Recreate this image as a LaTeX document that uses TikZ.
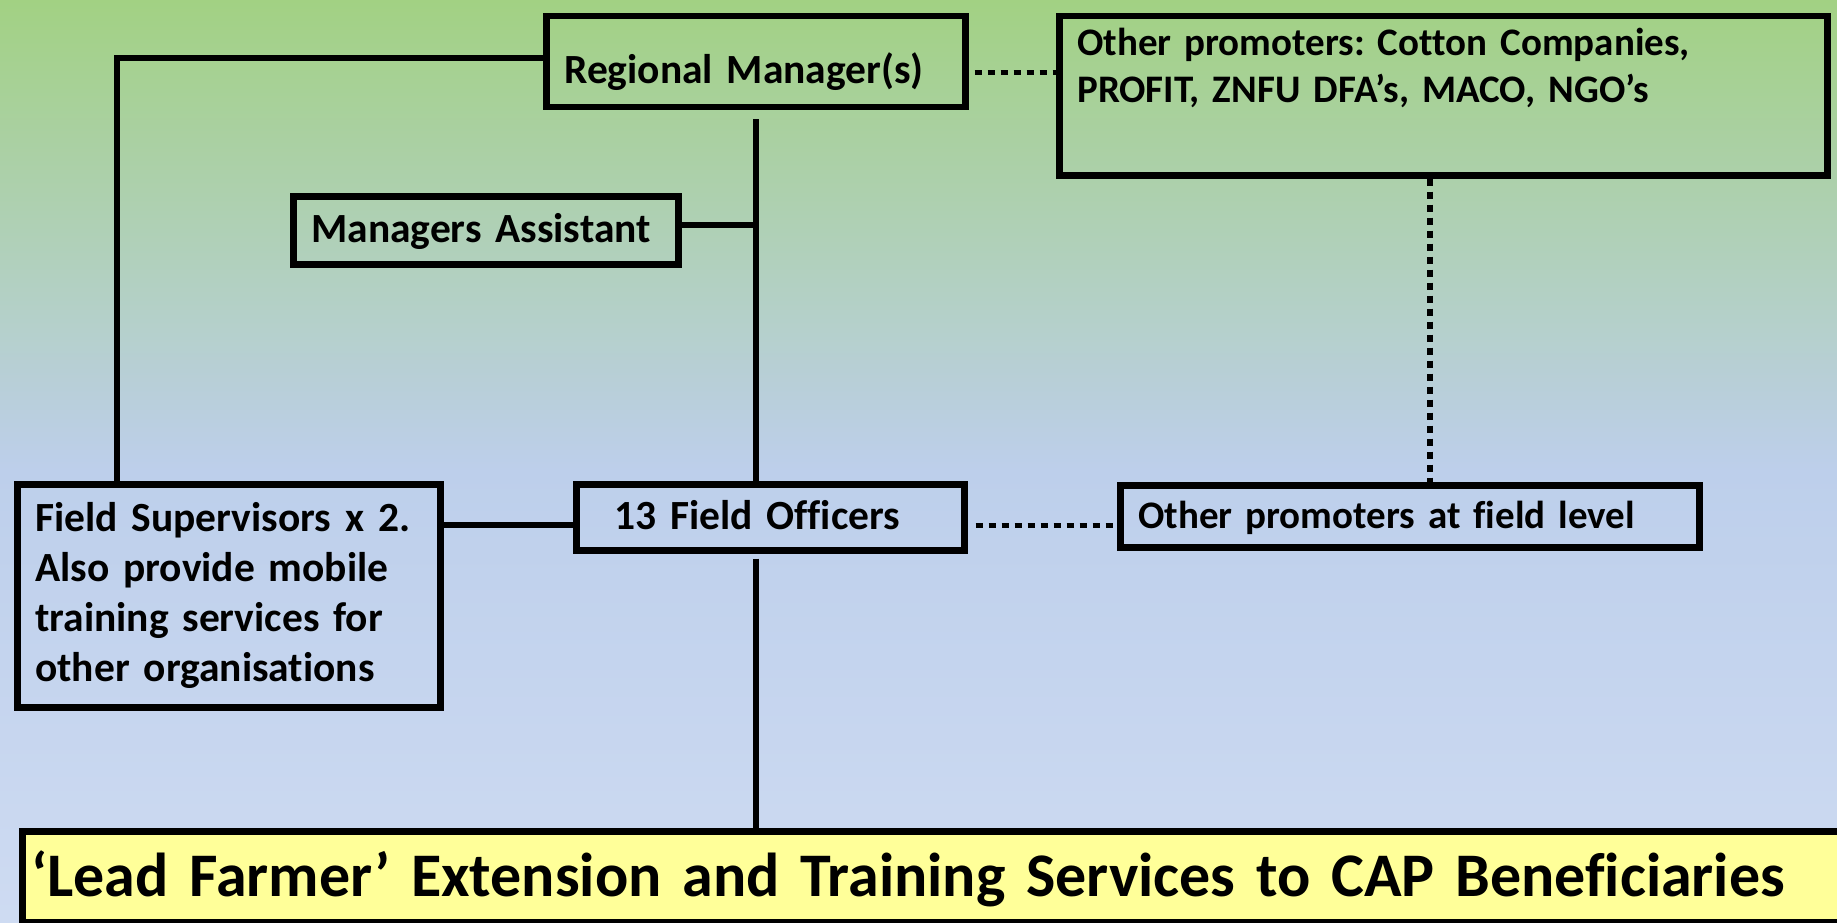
\documentclass[tikz,border=0pt]{standalone}
\usepackage{fontspec}
\setmainfont{Carlito}[Ligatures=NoCommon]
\usetikzlibrary{positioning}
\frenchspacing

\definecolor{bgtop}{HTML}{A2D183}
\definecolor{bgmid}{HTML}{BDCFEB}
\definecolor{bglow}{HTML}{CEDBF2}
\definecolor{bannerfill}{HTML}{FFFF99}

\tikzset{
  box/.style={draw, line width=6.5pt, anchor=north west, inner xsep=18pt, inner ysep=0pt,
    align=left, font=\fontsize{41.5}{50}\selectfont\bfseries},
  smalltext/.style={font=\fontsize{39}{47}\selectfont\bfseries},
  oneline/.style={text height=25pt, text depth=0pt},
  link/.style={line width=6pt},
  dotlink/.style={line width=5.5pt, dash pattern=on 7pt off 6pt},
}

\begin{document}
\begin{tikzpicture}[x=1pt, y=-1pt]
      \shade [top color=bgtop, bottom color=bgmid] (0, 0) rectangle (1837, 470);
      \shade [top color=bgmid, bottom color=bglow] (0, 470) rectangle (1837, 923);
      \useasboundingbox (0, 0) rectangle (1837, 923);
      \node [box, oneline, text height=43pt, text width=383pt, minimum height=91pt] (rm) at (543, 13) {Regional Manager(s)};
      \node [box, smalltext, text width=732pt, minimum height=159pt] (op) at (1056, 13)
            {\parbox[c][135pt][t]{732pt}{Other promoters: Cotton Companies,\\PROFIT, ZNFU DFA’s, MACO, NGO’s}};
      \node [box, oneline, text width=349pt, minimum height=68pt] (ma) at (290, 193) {Managers Assistant};
      \node [box, text width=387pt, minimum height=223pt] (fs) at (14, 481)
            {Field Supervisors x 2.\\Also provide mobile\\training services for\\other organisations};
      \node [box, oneline, inner xsep=38pt, text width=312pt, minimum height=66pt] (fo) at (573, 481) {13 Field Officers};
      \node [box, smalltext, oneline, text width=543pt, minimum height=62pt] (fl) at (1117, 482) {Other promoters at field level};
      \node [box, fill=bannerfill, inner xsep=9pt, text width=1812pt, minimum height=91pt,
             font=\fontsize{62}{66}\selectfont\bfseries, text height=39pt, text depth=0pt] (lead) at (19, 828)
            {‘Lead Farmer’ Extension and Training Services to CAP Beneficiaries};
      \draw [link] ([yshift=4pt]rm.west) -| ([xshift=103pt]fs.north west);
      \draw [link, shorten <=9pt] (rm.south) -- (rm.south |- fo.north);
      \draw [link] ([yshift=5pt]ma.east) -- ([yshift=5pt]ma.east -| rm.south);
      \draw [link] ([yshift=-8pt]fo.west) -- ([yshift=-8pt]fo.west -| fs.east);
      \draw [link, shorten <=5pt] (fo.south -| rm.south) -- (lead.north -| rm.south);
      \draw [dotlink, shorten <=6pt] ([yshift=-11pt]rm.east) -- ([yshift=-11pt]rm.east -| op.west);
      \draw [dotlink, shorten <=8pt] ([yshift=-8pt]fo.east) -- ([yshift=-8pt]fo.east -| fl.west);
      \draw [dotlink] ([xshift=374pt]op.south west) -- ([xshift=374pt]op.south west |- fl.north);
\end{tikzpicture}
\end{document}
